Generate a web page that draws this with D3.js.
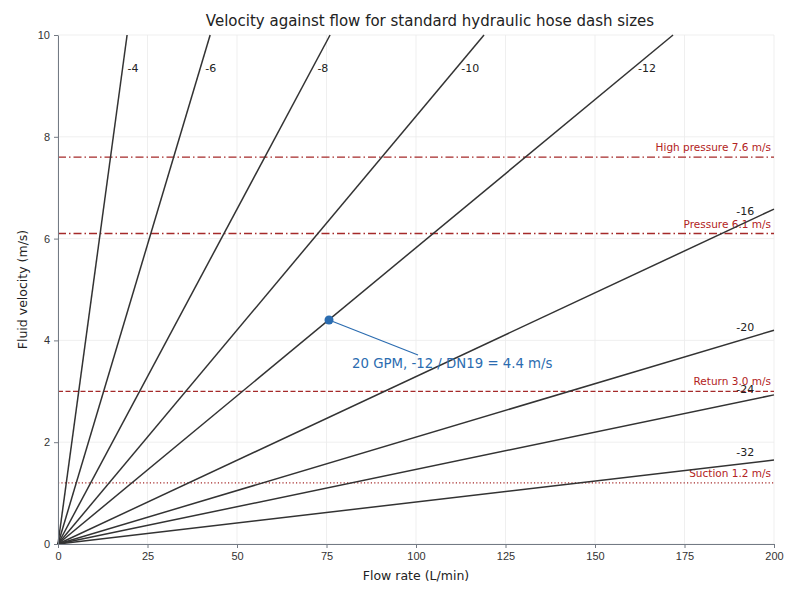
<!DOCTYPE html>
<html>
<head>
<meta charset="utf-8">
<script src="https://cdn.jsdelivr.net/npm/d3@7"></script>
<style>
  body { margin: 0; background: #fff; }
  svg { font-family: "DejaVu Sans", sans-serif; }
  .tick text { fill: #333; font-size: 11px; }
  .domain, .tick line { stroke: #737a84; }
</style>
</head>
<body>
<div id="chart"></div>
<script>
const width = 800;
const height = 600;
const margins = {top: 35, right: 26, bottom: 56, left: 58};

// dash sizes, each line runs from the origin to the end point
const dashSizes = ["-4", "-6", "-8", "-10", "-12", "-16", "-20", "-24", "-32"];
const endFlow = [19.3, 42.5, 76.0, 119.0, 171.8, 200, 200, 200, 200];
const endVelocity = [10, 10, 10, 10, 10, 6.58, 4.2, 2.93, 1.65];

// recommended velocity limits
const limitNames = ["High pressure 7.6 m/s", "Pressure 6.1 m/s", "Return 3.0 m/s", "Suction 1.2 m/s"];
const limitValues = [7.6, 6.1, 3.0, 1.2];
const limitDash = ["8,3,1.5,3", "8,3,1.5,3", "5,2.5", "1.2,2.2"];

const xTicks = [0, 25, 50, 75, 100, 125, 150, 175, 200];
const yTicks = [0, 2, 4, 6, 8, 10];

// worked example
const examplePoint = {flow: 75.7, velocity: 4.4, label: "20 GPM, -12 / DN19 = 4.4 m/s"};

const svg = d3.select("#chart").append("svg")
  .attr("width", width)
  .attr("height", height);

const x = d3.scaleLinear().domain([0, 200]).range([margins.left, width - margins.right]);
const y = d3.scaleLinear().domain([0, 10]).range([height - margins.bottom, margins.top]);

// grid
svg.append("g")
  .selectAll("line.vg")
  .data(xTicks)
  .join("line")
    .attr("x1", d => x(d)).attr("x2", d => x(d))
    .attr("y1", y(0)).attr("y2", y(10))
    .attr("stroke", "#ebebeb").attr("stroke-width", 0.8);
svg.append("g")
  .selectAll("line.hg")
  .data(yTicks)
  .join("line")
    .attr("x1", x(0)).attr("x2", x(200))
    .attr("y1", d => y(d)).attr("y2", d => y(d))
    .attr("stroke", "#ebebeb").attr("stroke-width", 0.8);

// limit lines
limitValues.forEach(function (v, i) {
  svg.append("line")
    .attr("x1", x(0)).attr("x2", x(200))
    .attr("y1", y(v)).attr("y2", y(v))
    .attr("stroke", "#a52a2a")
    .attr("stroke-width", 1.3)
    .attr("stroke-dasharray", limitDash[i]);
  svg.append("text")
    .attr("x", x(200) - 3)
    .attr("y", y(v) - 6)
    .attr("text-anchor", "end")
    .attr("font-size", "10.5px")
    .attr("fill", "#b22222")
    .text(limitNames[i]);
});

// hose lines
const labelV = 9.35;
dashSizes.forEach(function (name, i) {
  svg.append("line")
    .attr("x1", x(0)).attr("y1", y(0))
    .attr("x2", x(endFlow[i])).attr("y2", y(endVelocity[i]))
    .attr("stroke", "#333")
    .attr("stroke-width", 1.5);

  const slope = endVelocity[i] / endFlow[i];
  let lx, ly;
  if (endVelocity[i] >= 10) {
    lx = x(labelV / slope) + 5;
    ly = y(labelV);
  } else {
    lx = x(190) - 2;
    ly = y(192 * slope + 0.22);
  }
  svg.append("text")
    .attr("x", lx)
    .attr("y", ly)
    .attr("dy", "0.35em")
    .attr("font-size", "11px")
    .attr("fill", "#222")
    .text(name);
});

// example annotation
const tx = 352, ty = 363;
svg.append("line")
  .attr("x1", x(examplePoint.flow)).attr("y1", y(examplePoint.velocity))
  .attr("x2", 418).attr("y2", 355)
  .attr("stroke", "#2b6cb0").attr("stroke-width", 1.2);
svg.append("circle")
  .attr("cx", x(examplePoint.flow))
  .attr("cy", y(examplePoint.velocity))
  .attr("r", 4.5)
  .attr("fill", "#2b6cb0");
svg.append("text")
  .attr("x", tx).attr("y", ty)
  .attr("dy", "0.35em")
  .attr("font-size", "13.3px")
  .attr("fill", "#2b6cb0")
  .text(examplePoint.label);

// axes
svg.append("g")
  .attr("transform", "translate(0," + y(0) + ")")
  .call(d3.axisBottom(x).tickValues(xTicks).tickSize(4).tickSizeOuter(0).tickPadding(4));
svg.append("g")
  .attr("transform", "translate(" + x(0) + ",0)")
  .call(d3.axisLeft(y).tickValues(yTicks).tickSize(4).tickSizeOuter(0).tickPadding(4));

svg.append("text")
  .attr("x", (x(0) + x(200)) / 2)
  .attr("y", 580)
  .attr("text-anchor", "middle")
  .attr("font-size", "12.5px")
  .attr("fill", "#222")
  .text("Flow rate (L/min)");

svg.append("text")
  .attr("transform", "translate(27," + (y(5)) + ") rotate(-90)")
  .attr("text-anchor", "middle")
  .attr("font-size", "12.5px")
  .attr("fill", "#222")
  .text("Fluid velocity (m/s)");

svg.append("text")
  .attr("x", 430)
  .attr("y", 26)
  .attr("text-anchor", "middle")
  .attr("font-size", "15px")
  .attr("fill", "#222")
  .text("Velocity against flow for standard hydraulic hose dash sizes");
</script>
</body>
</html>
